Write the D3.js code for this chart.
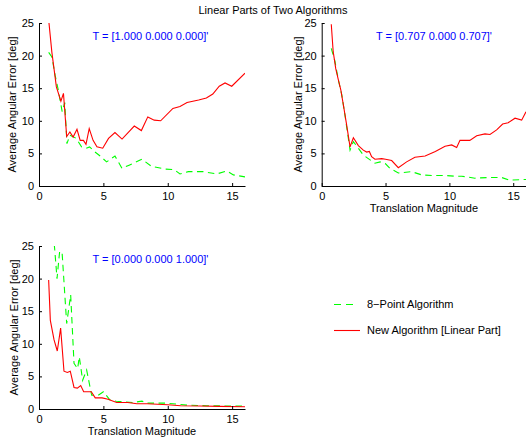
<!DOCTYPE html>
<html><head><meta charset="utf-8">
<script src="https://cdn.jsdelivr.net/npm/d3@7"></script>
<style>body{margin:0;background:#fff}svg{display:block}text{font-family:"Liberation Sans",Arial,Helvetica,sans-serif}</style>
</head><body>
<script>
// ---- data ----
const chartTitle = "Linear Parts of Two Algorithms";
const xTicks = [0, 5, 10, 15];
const yTicks = [0, 5, 10, 15, 20, 25];
const seriesNames = ["8\u2212Point Algorithm", "New Algorithm [Linear Part]"];
const panelLabels = ["T = [1.000 0.000 0.000]'", "T = [0.707 0.000 0.707]'", "T = [0.000 0.000 1.000]'"];

const p1NewX = [0.75,1.0,1.35,1.7,1.9,2.15,2.4,2.65,2.95,3.2,3.45,3.65,3.9,4.2,4.5,4.95,5.4,5.9,6.45,7.4,7.95,8.45,8.95,9.45,10.4,10.95,11.5,12.4,13.0,13.5,14.0,14.45,14.97,16];
const p1NewY = [25.5,20.5,15.2,13.0,14.2,7.6,8.3,7.5,8.7,7.0,7.0,6.4,8.8,7.0,6.0,5.8,7.3,8.2,7.2,9.2,8.5,10.6,10.1,10.0,11.9,12.2,12.8,13.2,13.5,14.1,15.3,15.8,15.3,17.3];
const p1OldX = [0.75,1.0,1.25,1.5,1.8,2.0,2.17,2.4,2.9,3.3,3.67,3.93,4.3,4.75,5.25,5.9,6.45,7.0,8.0,8.75,9.8,10.5,10.95,11.6,12.75,13.8,14.6,15.1,16];
const p1OldY = [20.5,19.8,17.0,14.7,11.4,12.8,6.5,7.8,7.3,6.0,5.8,6.0,5.3,4.6,3.7,4.6,2.7,3.2,4.1,3.0,2.6,2.5,1.85,2.2,2.2,1.85,2.3,1.7,1.4];

const p2NewX = [0.75,0.9,1.1,1.3,1.5,1.7,1.95,2.22,2.48,2.87,3.26,3.52,3.73,3.91,4.17,4.7,5.0,5.48,6.0,6.65,7.3,8.1,8.9,9.66,10.18,10.57,10.83,11.6,12.14,12.79,13.18,13.7,14.17,14.6,15.14,15.66,16];
const p2NewY = [24.8,20.6,18.0,16.3,14.7,12.4,9.4,6.0,7.4,6.2,5.5,5.2,5.3,4.5,4.1,4.2,4.1,3.9,2.8,3.7,4.4,4.6,5.3,6.1,6.3,5.9,7.0,7.0,7.7,8.0,7.9,8.6,9.5,9.7,10.4,10.1,11.4];
const p2OldX = [0.75,1.04,1.3,1.57,1.82,2.22,2.48,2.87,3.26,3.65,4.17,4.57,5.0,5.35,6.0,7.05,7.83,8.7,9.79,10.44,10.96,12.0,13.0,14.1,14.7,16];
const p2OldY = [21.1,19.1,16.3,14.0,10.9,5.5,6.8,5.8,4.75,4.2,3.5,3.7,3.4,2.7,2.0,2.2,1.7,1.6,1.6,1.5,1.5,1.2,1.3,1.3,0.9,1.0];

const p3NewX = [0.75,0.88,1.17,1.42,1.68,1.94,2.2,2.43,2.72,2.98,3.24,3.47,4.06,4.37,4.9,5.36,6.03,6.9,7.6,8.4,10.0,11.0,12.5,14.0,16];
const p3NewY = [19.8,13.6,10.6,8.9,12.4,5.8,5.6,5.8,3.3,3.2,3.6,2.65,2.65,1.7,1.7,1.5,1.0,1.0,0.8,0.8,0.65,0.5,0.45,0.4,0.35];
const p3OldX = [0.75,1.0,1.22,1.4,1.6,1.79,2.15,2.46,2.72,3.0,3.13,3.39,3.7,4.09,4.6,5.0,5.5,6.0,7.3,8.0,8.4,9.9,11.5,13.0,15.1,16];
const p3OldY = [32,29,24.5,20.0,24.1,24.1,13.1,17.5,7.0,6.2,8.0,4.4,6.0,2.1,2.1,2.65,1.4,1.2,1.0,1.2,0.9,0.9,0.6,0.5,0.45,0.45];

// ---- layout ----
const W = 526, H = 440;
const svg = d3.select("body").append("svg").attr("width", W).attr("height", H);
svg.append("rect").attr("width", W).attr("height", H).attr("fill", "#fff");

svg.append("text").attr("x", 273).attr("y", 14).attr("text-anchor", "middle")
  .attr("font-size", 11).attr("fill", "#000").text(chartTitle);

const panels = [
  {l: 39, r: 245, t: 23, b: 186, lab: panelLabels[0], labX: 92.5, labY: 39.5, ylabX: 12, xlabel: false,
   newX: p1NewX, newY: p1NewY, oldX: p1OldX, oldY: p1OldY},
  {l: 321.7, r: 526, t: 23, b: 186, lab: panelLabels[1], labX: 376, labY: 39.5, ylabX: 298, xlabel: true,
   newX: p2NewX, newY: p2NewY, oldX: p2OldX, oldY: p2OldY},
  {l: 39, r: 245, t: 246, b: 409, lab: panelLabels[2], labX: 92.5, labY: 263, ylabX: 14, xlabel: true,
   newX: p3NewX, newY: p3NewY, oldX: p3OldX, oldY: p3OldY}
];

panels.forEach((p, i) => {
  const x = d3.scaleLinear().domain([0, 16]).range([p.l, p.r]);
  const y = d3.scaleLinear().domain([0, 25]).range([p.b, p.t]);
  const g = svg.append("g");
  const cid = "clip" + i;
  svg.append("clipPath").attr("id", cid).append("rect")
    .attr("x", p.l).attr("y", p.t).attr("width", p.r - p.l).attr("height", p.b - p.t);

  const line = d3.line().x(d => x(d[0])).y(d => y(d[1]));
  const oldPts = p.oldX.map((v, k) => [v, p.oldY[k]]);
  const newPts = p.newX.map((v, k) => [v, p.newY[k]]);
  const lines = g.append("g").attr("clip-path", `url(#${cid})`);
  lines.append("path").attr("d", line(oldPts)).attr("fill", "none")
    .attr("stroke", "#00ff00").attr("stroke-width", 1.1).attr("stroke-dasharray", "6.5,4.5");
  lines.append("path").attr("d", line(newPts)).attr("fill", "none")
    .attr("stroke", "#ff0000").attr("stroke-width", 1.1);

  const xa = d3.axisBottom(x).tickValues(xTicks).tickSizeInner(-3).tickSizeOuter(0).tickPadding(6);
  const ya = d3.axisLeft(y).tickValues(yTicks).tickSizeInner(-3).tickSizeOuter(0).tickPadding(5);
  const gx = g.append("g").attr("transform", `translate(0,${p.b})`).call(xa);
  const gy = g.append("g").attr("transform", `translate(${p.l},0)`).call(ya);
  [gx, gy].forEach(a => {
    a.selectAll("path,line").attr("stroke", "#000");
    a.selectAll("text").attr("font-size", 11).attr("fill", "#000")
      .attr("font-family", '"Liberation Sans",Arial,sans-serif');
  });

  g.append("text").attr("x", p.labX).attr("y", p.labY).attr("font-size", 11)
    .attr("fill", "#0000ff").text(p.lab);

  g.append("text").attr("transform", `translate(${p.ylabX},${(p.t + p.b) / 2}) rotate(-90)`)
    .attr("text-anchor", "middle").attr("dy", "0.35em").attr("font-size", 11).attr("fill", "#000")
    .text("Average Angular Error [deg]");
  if (p.xlabel) {
    g.append("text").attr("x", (p.l + p.r) / 2).attr("y", p.b + 26).attr("text-anchor", "middle")
      .attr("font-size", 11).attr("fill", "#000").text("Translation Magnitude");
  }
});

// ---- legend ----
const leg = svg.append("g");
const legItems = [
  {name: seriesNames[0], color: "#00ff00", dash: "7,5", x2: 353, y: 304.5},
  {name: seriesNames[1], color: "#ff0000", dash: null, x2: 360, y: 330.5}
];
legItems.forEach(it => {
  leg.append("line").attr("x1", 334).attr("x2", it.x2).attr("y1", it.y).attr("y2", it.y)
    .attr("stroke", it.color).attr("stroke-width", 1.1).attr("stroke-dasharray", it.dash);
  leg.append("text").attr("x", 367).attr("y", it.y).attr("dy", "0.35em").attr("font-size", 11)
    .attr("fill", "#000").text(it.name);
});
</script>
</body></html>
